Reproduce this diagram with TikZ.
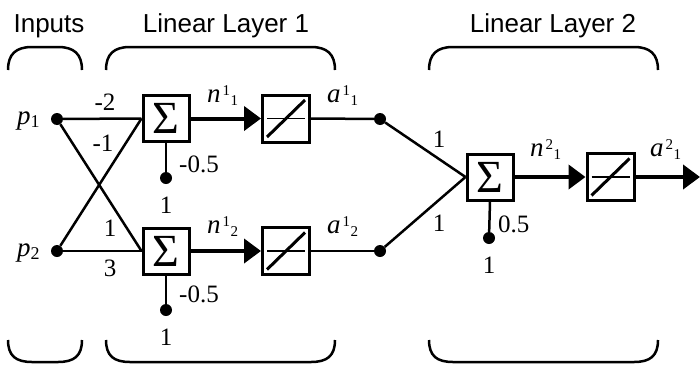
\documentclass[tikz,border=0pt]{standalone}
\usepackage{fontspec}
\setmainfont{Liberation Serif}
\newfontfamily\titlefont{Liberation Sans}
\usetikzlibrary{arrows.meta}
\newcommand\lblss[3]{\textit{#1}\kern2pt\raisebox{7pt}{\fontsize{15}{15}\selectfont #2}\kern0.5pt\raisebox{-3pt}{\fontsize{15}{15}\selectfont #3}}
\newcommand\lblp[1]{\textit{p}\raisebox{-3pt}{\fontsize{18}{18}\selectfont #1}}
\begin{document}
\begin{tikzpicture}[x=1pt,y=-1pt,
 dot/.style={circle,fill=black,inner sep=0pt,minimum size=12pt},
 sumbox/.style={draw,line width=3pt,minimum size=46pt,inner sep=0pt,font=\fontsize{46}{46}\selectfont},
 linbox/.style={draw,line width=3pt,minimum size=47pt,inner sep=0pt},
 wire/.style={line width=2.5pt},
 sig/.style={line width=4pt,-{Triangle[length=17pt,width=24pt]}},
 num/.style={inner sep=0pt,font=\fontsize{25}{25}\selectfont},
 var/.style={inner sep=0pt,anchor=base west,font=\fontsize{27}{27}\selectfont},
 title/.style={inner sep=0pt,anchor=base,font=\titlefont\fontsize{26}{26}\selectfont},
 brace/.style={line width=2.5pt}]
\useasboundingbox (0,0) rectangle (700,364);

% titles
\node[title] (tin) at (49,32) {Inputs};
\node[title] (tl1) at (226,32) {Linear Layer 1};
\node[title] (tl2) at (553,32) {Linear Layer 2};

% brackets
\foreach \a/\b in {8/82,106/335,429/658}{
  \draw[brace] (\a,70) .. controls (\a,54) and (\a+8,47) .. (\a+24,47) -- (\b-24,47) .. controls (\b-8,47) and (\b,54) .. (\b,70);
  \draw[brace] (\a,340) .. controls (\a,356) and (\a+8,362) .. (\a+24,362) -- (\b-24,362) .. controls (\b-8,362) and (\b,356) .. (\b,340);
}

% inputs
\node[dot] (p1) at (57,119) {};
\node[dot] (p2) at (57,251) {};
\node[var] (lp1) at (17,124) {\lblp{1}};
\node[var] (lp2) at (17,256) {\lblp{2}};

% layer 1
\node[sumbox] (s1) at (166,118.5) {Σ};
\node[sumbox] (s2) at (166,251) {Σ};
\node[linbox] (f1) at (286,118.5) {};
\node[linbox] (f2) at (286,251) {};
\node[dot] (b1) at (166,178) {};
\node[dot] (b2) at (166,310) {};
\node[dot] (d1) at (380,119) {};
\node[dot] (d2) at (380,251) {};

% layer 2
\node[sumbox] (s3) at (490,177) {Σ};
\node[linbox] (f3) at (610.5,177) {};
\node[dot] (b3) at (489,238) {};
\coordinate (out) at (700,177);

% transfer function glyphs
\foreach \f in {f1,f2,f3}{
  \draw[line width=1.5pt] ([shift={(-19,0)}]\f.center) -- ([shift={(19,0)}]\f.center);
  \draw[line width=3pt] ([shift={(-19,18.5)}]\f.center) -- ([shift={(19,-18.5)}]\f.center);
}

% connections
\draw[wire] (p1) -- (s1.west);
\draw[wire] (p1) -- (s2.west);
\draw[wire] (p2) -- (s1.west);
\draw[wire] (p2) -- (s2.west);
\draw[wire] (b1) -- (s1.south);
\draw[wire] (b2) -- (s2.south);
\draw[sig] (s1.east) -- (f1.west);
\draw[sig] (s2.east) -- (f2.west);
\draw[wire] (f1.east) -- (d1);
\draw[wire] (f2.east) -- (d2);
\draw[wire] (d1) -- (s3.west);
\draw[wire] (d2) -- (s3.west);
\draw[wire] (b3) -- (s3.south);
\draw[sig] (s3.east) -- (f3.west);
\draw[sig] (f3.east) -- (out);

% weights and biases
\node[num] (w11) at (105,102) {-2};
\node[num] (w12) at (103,143) {-1};
\node[num] (w21) at (110,228) {1};
\node[num] (w22) at (110,268) {3};
\node[num,anchor=west] (bl1) at (179,164) {-0.5};
\node[num,anchor=west] (bl2) at (179,294) {-0.5};
\node[num] (one1) at (166,205) {1};
\node[num] (one2) at (166,337) {1};
\node[num] (v1) at (439,139) {1};
\node[num] (v2) at (439,223) {1};
\node[num,anchor=west] (bl3) at (498,224) {0.5};
\node[num] (one3) at (489,265) {1};

% signal labels
\node[var] (n11) at (207,102) {\lblss{n}{1}{1}};
\node[var] (n12) at (207,233) {\lblss{n}{1}{2}};
\node[var] (a11) at (327,102) {\lblss{a}{1}{1}};
\node[var] (a12) at (327,233) {\lblss{a}{1}{2}};
\node[var] (n21) at (530,156) {\lblss{n}{2}{1}};
\node[var] (a21) at (650,156) {\lblss{a}{2}{1}};
\end{tikzpicture}
\end{document}
